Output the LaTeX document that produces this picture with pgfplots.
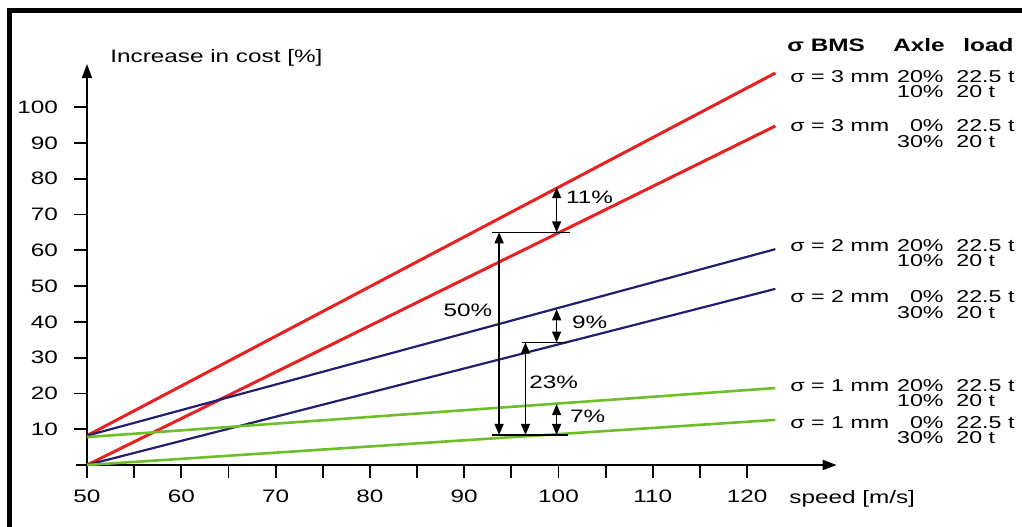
\documentclass[border=0pt]{standalone}
\usepackage{pgfplots}
\pgfplotsset{compat=1.18}
\usetikzlibrary{arrows.meta}
\usepackage{fontspec}
\setmainfont{Liberation Sans}[FakeStretch=1.35]
\definecolor{cred}{RGB}{232,32,32}
\definecolor{cnavy}{RGB}{35,30,110}
\definecolor{cgreen}{RGB}{110,190,40}
\tikzset{dbl/.style={line width=0.7pt,{Triangle[length=5.5pt,width=4.5pt]}-{Triangle[length=5.5pt,width=4.5pt]}}}
\newcommand{\tf}{\fontsize{9}{10}\selectfont}
\newcommand{\lf}{\fontsize{8.6}{10}\selectfont}
\begin{document}
\begin{tikzpicture}
\useasboundingbox (-43.5pt,-30.5pt) rectangle (467.5pt,232.5pt);
\begin{axis}[
  x=4.715pt, y=1.79pt,
  xmin=50, xmax=129.5, ymin=0, ymax=112,
  axis x line=bottom, axis y line=left,
  axis line style={line width=0.9pt,-{Triangle[length=7pt,width=5pt]}},
  xtick={50,55,...,120},
  xticklabels={50,,60,,70,,80,,90,,100,,110,,120},
  ytick={10,20,...,100},
  tick align=outside,
  major tick length=6.5pt,
  tick style={line width=0.9pt, black},
  tick label style={font=\tf},
  /pgf/number format/assume math mode=true,
  xticklabel style={yshift=-2.5pt},
  yticklabel style={xshift=-4.5pt},
  clip=false,
]
\addplot[cred, line width=1.5pt] coordinates {(50,8.2) (123,109.5)};
\addplot[cred, line width=1.5pt] coordinates {(50,0) (123,94.7)};
\addplot[cnavy, line width=1.1pt] coordinates {(50,8.2) (123,60.3)};
\addplot[cnavy, line width=1.1pt] coordinates {(50,0) (123,49.2)};
\addplot[cgreen, line width=1.3pt] coordinates {(50,7.8) (123,21.5)};
\addplot[cgreen, line width=1.3pt] coordinates {(50,0) (123,12.6)};
% x-axis extension left of y axis
\draw[line width=0.9pt] (axis cs:48.8,0) -- (axis cs:50,0);
% annotations
\draw[line width=0.7pt] (axis cs:93.0,65) -- (axis cs:101.2,65);
\draw[line width=0.7pt] (axis cs:93.0,8.4) -- (axis cs:101.0,8.4);
\draw[line width=0.7pt] (axis cs:96.1,34.2) -- (axis cs:100.9,34.2);
\draw[dbl] (axis cs:93.7,65) -- (axis cs:93.7,8.4);
\draw[dbl] (axis cs:96.5,34.2) -- (axis cs:96.5,8.4);
\draw[dbl] (axis cs:99.8,77.6) -- (axis cs:99.8,65);
\draw[dbl] (axis cs:99.8,43.5) -- (axis cs:99.8,34.2);
\draw[dbl] (axis cs:99.8,17) -- (axis cs:99.8,8.4);
\node[font=\tf] at (axis cs:90.4,43.3) {50\%};
\node[font=\tf] at (axis cs:103.3,74.8) {11\%};
\node[font=\tf] at (axis cs:103.3,40) {9\%};
\node[font=\tf] at (axis cs:99.5,23) {23\%};
\node[font=\tf] at (axis cs:103.1,13.5) {7\%};
\end{axis}
\begin{scope}[x=0.5pt,y=-0.5pt,shift={(-43.5pt,232.5pt)}]
\fill[black] (7,8) rectangle (1040,13);
\fill[black] (7,8) rectangle (12,540);
\node[font=\tf, anchor=base west, inner sep=0pt] at (110,63) {Increase in cost [\%]};
\node[font=\tf, anchor=base west, inner sep=0pt] at (789,503) {speed [m/s]};
\begin{scope}[every node/.style={font=\lf, inner sep=0pt}]
\node[anchor=base west, font=\tf\bfseries] at (787,51) {σ BMS};
\node[anchor=base west, font=\tf\bfseries] at (893,51) {Axle};
\node[anchor=base west, font=\tf\bfseries] at (963,51) {load};
% rows
\foreach \s/\ya/\yb/\pa/\pb in {3/82/97/20/10, 3/131/147/0/30, 2/251/266/20/10, 2/302/318/0/30, 1/391/406/20/10, 1/428/443/0/30}{
  \node[anchor=base west] at (790,\ya) {σ = \s\ mm};
  \node[anchor=base east] at (944,\ya) {\pa\%};
  \node[anchor=base west] at (956,\ya) {22.5 t};
  \node[anchor=base east] at (944,\yb) {\pb\%};
  \node[anchor=base west] at (956,\yb) {20 t};
}
\end{scope}
\end{scope}
\end{tikzpicture}
\end{document}
